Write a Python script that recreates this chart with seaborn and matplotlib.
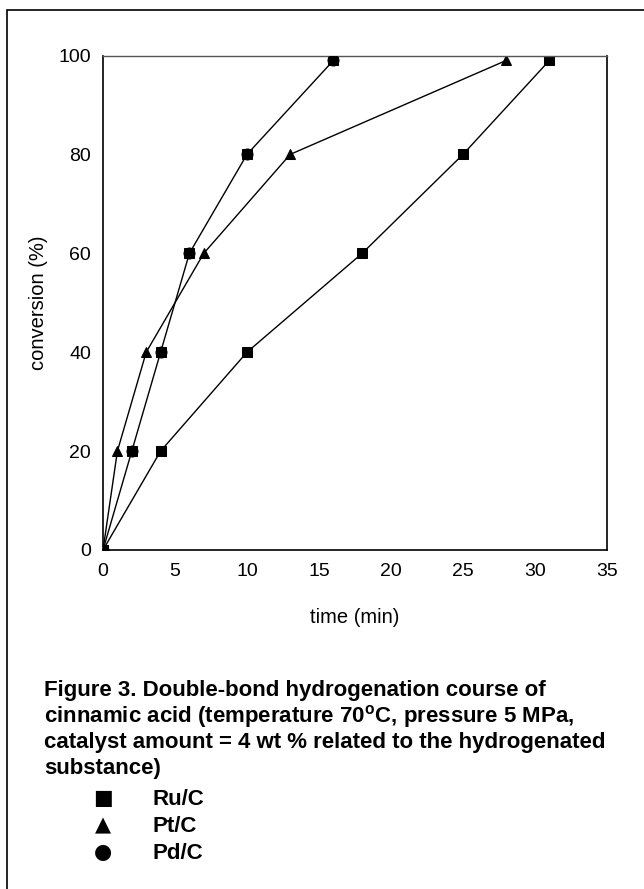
import matplotlib
matplotlib.use("Agg")
import matplotlib.pyplot as plt
import seaborn as sns
import pandas as pd
from matplotlib.patches import Rectangle

# ---- data ----
ru_time = [0, 4, 10, 18, 25, 31]
ru_conv = [0, 20, 40, 60, 80, 99]
pt_time = [0, 1, 3, 7, 13, 28]
pt_conv = [0, 20, 40, 60, 80, 99]
pd_time = [0, 2, 4, 6, 10, 16]
pd_conv = [0, 20, 40, 60, 80, 99]
x_ticks = [0, 5, 10, 15, 20, 25, 30, 35]
y_ticks = [0, 20, 40, 60, 80, 100]
catalysts = ["Ru/C", "Pt/C", "Pd/C"]
caption_lines = [
    "Figure 3. Double-bond hydrogenation course of",
    r"cinnamic acid (temperature 70$^{\mathbf{o}}$C, pressure 5 MPa,",
    "catalyst amount = 4 wt % related to the hydrogenated",
    "substance)",
]
legend_symbols = ["\u25a0", "\u25b2", "\u25cf"]

df = pd.concat([
    pd.DataFrame({"time": ru_time, "conv": ru_conv, "cat": "Ru/C"}),
    pd.DataFrame({"time": pt_time, "conv": pt_conv, "cat": "Pt/C"}),
    pd.DataFrame({"time": pd_time, "conv": pd_conv, "cat": "Pd/C"}),
], ignore_index=True)

sns.set_theme(style="white")
plt.rcParams["font.family"] = ["Liberation Sans", "DejaVu Sans"]
plt.rcParams["mathtext.fontset"] = "custom"
plt.rcParams["mathtext.rm"] = "Liberation Sans"
plt.rcParams["mathtext.bf"] = "Liberation Sans:bold"

W, H = 644, 889
fig = plt.figure(figsize=(W / 100, H / 100), dpi=100)
ax = fig.add_axes([103 / W, 1 - 550 / H, 504 / W, 494.5 / H])

sns.lineplot(data=df, x="time", y="conv", style="cat",
             markers={"Ru/C": "s", "Pt/C": "^", "Pd/C": "s"},
             dashes=False, color="black", linewidth=1.0,
             markersize=7.5, markeredgecolor="black",
             sort=False, estimator=None, legend=False, ax=ax)
# Pd/C round markers overlaid
pd_df = df[df["cat"] == "Pd/C"]
sns.scatterplot(data=pd_df, x="time", y="conv", marker="o", s=75,
                color="black", edgecolor="black", linewidth=0, ax=ax,
                legend=False, zorder=4)

ax.set_xlim(0, 35)
ax.set_ylim(0, 100)
ax.set_xticks(x_ticks)
ax.set_yticks(y_ticks)
ax.tick_params(axis="both", direction="inout", length=9, width=1.0,
               color="black", labelsize=14, labelcolor="black")
ax.tick_params(axis="x", pad=5)
ax.tick_params(axis="y", pad=4)
ax.set_xlabel("time (min)", fontsize=14.5, color="black")
ax.set_ylabel("conversion (%)", fontsize=14.5, color="black")
ax.xaxis.set_label_coords(0.5, -0.117)
ax.yaxis.set_label_coords(-0.11, 0.5)
for s in ["left", "bottom", "right"]:
    ax.spines[s].set_color("black")
    ax.spines[s].set_linewidth(1.2)
ax.spines["top"].set_color("#555555")
ax.spines["top"].set_linewidth(1.0)
ax.grid(False)

# outer frame (cut at right/bottom)
fig.add_artist(Rectangle((7 / W, -0.05), 1.2, 1 - 10 / H + 0.05,
                         transform=fig.transFigure, fill=False,
                         edgecolor="black", linewidth=1.2))

# caption
cap_x = 44 / W
for i, line in enumerate(caption_lines):
    y = 696 + 26 * i
    fig.text(cap_x, 1 - y / H, line, fontsize=16, fontweight="bold",
             ha="left", va="baseline", color="black")

# legend listing
for i, (sym, name) in enumerate(zip(legend_symbols, catalysts)):
    y = 805 + 27 * i
    fig.text(103 / W, 1 - (y - 7) / H, sym, fontsize=15, ha="center", va="center",
             family=["DejaVu Sans"], color="black")
    fig.text(153 / W, 1 - y / H, name, fontsize=16, fontweight="bold",
             ha="left", va="baseline", color="black")

fig.savefig("out.png", dpi=100)
